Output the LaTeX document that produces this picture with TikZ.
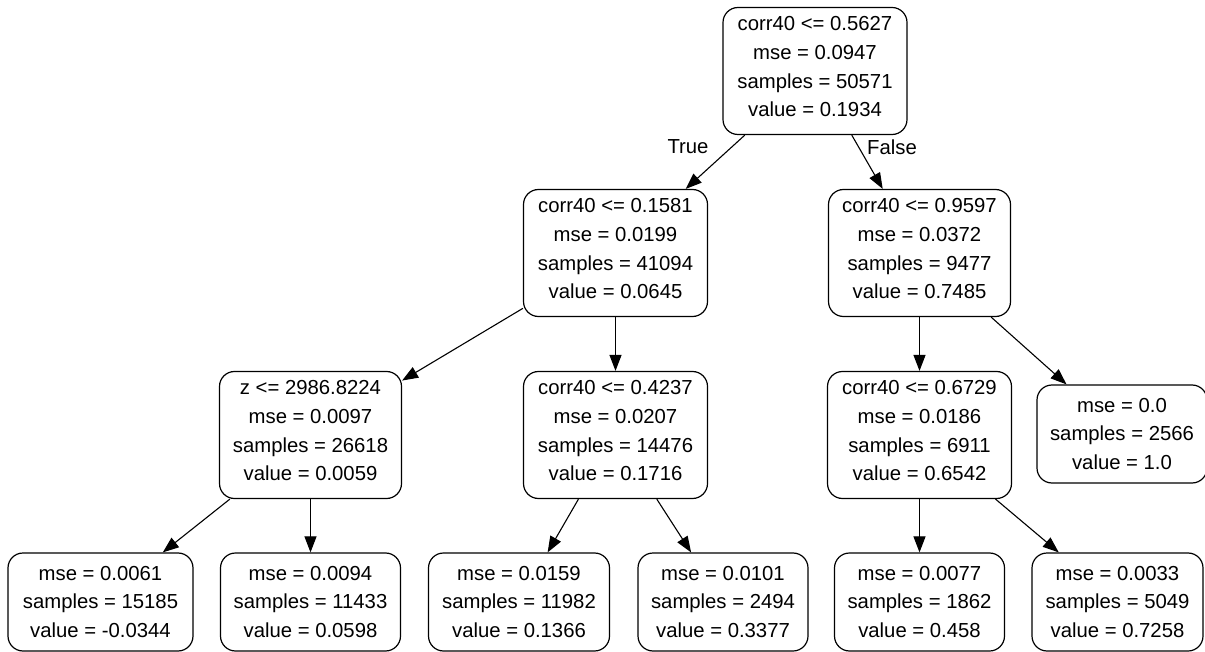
\documentclass[tikz,border=0pt]{standalone}
\usepackage{fontspec}
\setmainfont{Liberation Sans}
\usetikzlibrary{arrows.meta}
\begin{document}
\begin{tikzpicture}[x=1pt,y=-1pt,
  tnode/.style={draw, rounded corners=15pt, inner sep=0pt, align=center,
    font={\fontsize{20.3}{28.8}\selectfont}, line width=1.2pt},
  inner/.style={tnode, minimum height=127pt},
  leaf/.style={tnode, minimum height=98pt},
  conn/.style={-{Triangle[length=16pt,width=12pt]}, line width=1.1pt},
  lbl/.style={font={\fontsize{20.3}{24}\selectfont}, inner sep=0pt}]
\useasboundingbox (0,0) rectangle (1205,652);
\fill[white] (0,0) rectangle (1205,652);

\node[inner, minimum width=184pt] (root) at (815,71)
  {corr40 <= 0.5627\\mse = 0.0947\\samples = 50571\\value = 0.1934\strut};
\node[inner, minimum width=184pt] (la) at (615.5,253)
  {corr40 <= 0.1581\\mse = 0.0199\\samples = 41094\\value = 0.0645\strut};
\node[inner, minimum width=182pt] (lb) at (919.5,253)
  {corr40 <= 0.9597\\mse = 0.0372\\samples = 9477\\value = 0.7485\strut};
\node[inner, minimum width=182pt] (z) at (310.5,435)
  {z <= 2986.8224\\mse = 0.0097\\samples = 26618\\value = 0.0059\strut};
\node[inner, minimum width=184pt] (m) at (615.5,435)
  {corr40 <= 0.4237\\mse = 0.0207\\samples = 14476\\value = 0.1716\strut};
\node[inner, minimum width=184pt] (r) at (919.5,435)
  {corr40 <= 0.6729\\mse = 0.0186\\samples = 6911\\value = 0.6542\strut};
\node[leaf, minimum width=170pt] (zero) at (1122,434)
  {mse = 0.0\\samples = 2566\\value = 1.0};

\node[leaf, minimum width=185pt] (f1) at (100.5,602)
  {mse = 0.0061\\samples = 15185\\value = -0.0344};
\node[leaf, minimum width=180pt] (f2) at (310.5,602)
  {mse = 0.0094\\samples = 11433\\value = 0.0598};
\node[leaf, minimum width=181pt] (f3) at (519,602)
  {mse = 0.0159\\samples = 11982\\value = 0.1366};
\node[leaf, minimum width=170pt] (f4) at (723,602)
  {mse = 0.0101\\samples = 2494\\value = 0.3377};
\node[leaf, minimum width=170pt] (f5) at (919.5,602)
  {mse = 0.0077\\samples = 1862\\value = 0.458};
\node[leaf, minimum width=171pt] (f6) at (1117.5,602)
  {mse = 0.0033\\samples = 5049\\value = 0.7258};

\node[lbl] (ltrue) at (688,147) {True};
\node[lbl] (lfalse) at (892,147) {False};

\draw[conn] (root) -- (la);
\draw[conn] (root) -- (lb);
\draw[conn] (la) -- (z);
\draw[conn] (la) -- (m);
\draw[conn] (lb) -- (r);
\draw[conn] (lb) -- (zero);
\draw[conn] (z) -- (f1);
\draw[conn] (z) -- (f2);
\draw[conn] (m) -- (f3);
\draw[conn] (m) -- (f4);
\draw[conn] (r) -- (f5);
\draw[conn] (r) -- (f6);
\end{tikzpicture}
\end{document}
